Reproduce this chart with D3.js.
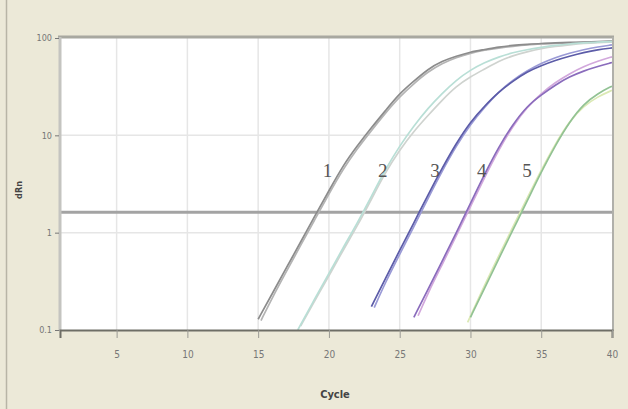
<!DOCTYPE html>
<html><head><meta charset="utf-8">
<script src="https://cdn.jsdelivr.net/npm/d3@7"></script>
<style>body{margin:0;background:#ECE9D8;}svg{display:block;}</style>
</head><body>
<svg id="c" width="628" height="409"></svg>
<script>
const xTicks = [5,10,15,20,25,30,35,40];
const yTicks = [0.1,1,10,100];
const yTickLabels = ["0.1","1","10","100"];
const threshold = 1.62;
const curveLabels = ["1","2","3","4","5"];
const labelCycles = [19.9,23.8,27.5,30.8,34.0];

const c1a = [[15,0.129],[16,0.237],[17,0.437],[18,0.80],[19,1.48],[20,2.7],[21,4.9],[22,7.8],[23,12],[24,18],[25,27],[26,36],[27,48],[28,58],[29,65],[30,72],[31,76],[32,81],[33,84],[34,86],[35,88],[36,89],[37,90],[38,91],[39,92],[40,93]];
const c1b = [[15.2,0.125],[16,0.215],[17,0.40],[18,0.74],[19,1.36],[20,2.5],[21,4.5],[22,7.3],[23,11.2],[24,17],[25,25],[26,34],[27,45],[28,55],[29,63],[30,70],[31,75],[32,79],[33,82],[34,85],[35,87],[36,88],[37,89],[38,90],[39,91],[40,92]];
const c2a = [[18,0.11],[19,0.20],[20,0.36],[21,0.66],[22,1.17],[23,2.2],[24,4.2],[25,7.1],[26,11],[27,16],[28,23],[29,32],[30,40],[31,48],[32,58],[33,66],[34,72],[35,78],[36,82],[37,85],[38,88],[39,90],[40,91]];
const c2b = [[17.8,0.10],[19,0.21],[20,0.38],[21,0.70],[22,1.25],[23,2.35],[24,4.5],[25,7.8],[26,12.5],[27,19],[28,27],[29,37],[30,47],[31,56],[32,64],[33,71],[34,76],[35,80],[36,84],[37,87],[38,89],[39,91],[40,92]];
const c3a = [[23,0.174],[24,0.34],[25,0.66],[26,1.26],[27,2.45],[28,4.6],[29,8.3],[30,13.8],[31,20],[32,28],[33,36],[34,45],[35,52],[36,59],[37,65],[38,71],[39,76],[40,79]];
const c3b = [[23.2,0.17],[24,0.31],[25,0.60],[26,1.15],[27,2.25],[28,4.3],[29,7.8],[30,13],[31,19.5],[32,28],[33,37],[34,46],[35,55],[36,63],[37,70],[38,76],[39,81],[40,85]];
const c4a = [[26,0.135],[27,0.26],[28,0.51],[29,1.0],[30,2.0],[31,4.0],[32,7.6],[33,13],[34,20],[35,26],[36,33],[37,40],[38,46],[39,51],[40,56]];
const c4b = [[26.3,0.14],[27,0.24],[28,0.47],[29,0.93],[30,1.85],[31,3.7],[32,7.1],[33,12.5],[34,19.5],[35,27],[36,35],[37,43],[38,51],[39,58],[40,64]];
const c5a = [[30,0.135],[31,0.27],[32,0.54],[33,1.07],[34,2.1],[35,4.2],[36,7.9],[37,13.8],[38,21],[39,27],[40,32]];
const c5b = [[29.8,0.12],[31,0.29],[32,0.58],[33,1.15],[34,2.25],[35,4.4],[36,8.2],[37,14],[38,20],[39,25],[40,29]];

const series = [
  {data:c1b,color:"#b4b4b4"},{data:c1a,color:"#8c8c8c"},
  {data:c2a,color:"#cfd3cf"},{data:c2b,color:"#b9dfd6"},
  {data:c3b,color:"#9a9ad6"},{data:c3a,color:"#5c5ca8"},
  {data:c4b,color:"#d2a8dc"},{data:c4a,color:"#8a6cbc"},
  {data:c5b,color:"#dbe9b4"},{data:c5a,color:"#92c294"}
];

const svg = d3.select("#c");
svg.append("rect").attr("x",0).attr("y",0).attr("width",628).attr("height",409).attr("fill","#ECE9D8");
svg.append("line").attr("x1",6.5).attr("x2",6.5).attr("y1",0).attr("y2",409).attr("stroke","#b8b5a6").attr("stroke-width",1.5);

const x = d3.scaleLinear().domain([1,40]).range([60,612]);
const y = d3.scaleLog().domain([0.1,100]).range([330,38]);

svg.append("rect").attr("x",60).attr("y",38).attr("width",552).attr("height",292).attr("fill","#ffffff");

const g = svg.append("g");
g.selectAll("line.vg").data(xTicks.slice(0,-1)).enter().append("line")
  .attr("x1",d=>x(d)).attr("x2",d=>x(d)).attr("y1",38).attr("y2",330)
  .attr("stroke","#e6e6e6").attr("stroke-width",1.5);
g.selectAll("line.hg").data([1,10]).enter().append("line")
  .attr("x1",60).attr("x2",612).attr("y1",d=>y(d)).attr("y2",d=>y(d))
  .attr("stroke","#e6e6e6").attr("stroke-width",1.5);

g.append("line").attr("x1",60).attr("x2",612).attr("y1",y(threshold)).attr("y2",y(threshold))
  .attr("stroke","#a3a3a3").attr("stroke-width",3);

const line = d3.line().x(d=>x(d[0])).y(d=>y(d[1])).curve(d3.curveBasis);
g.selectAll("path.s").data(series).enter().append("path")
  .attr("d",d=>line(d.data)).attr("fill","none").attr("stroke",d=>d.color).attr("stroke-width",1.7);

svg.append("line").attr("x1",58).attr("x2",614).attr("y1",37).attr("y2",37).attr("stroke","#a8a8a0").attr("stroke-width",3);
svg.append("line").attr("x1",60).attr("x2",60).attr("y1",37).attr("y2",331).attr("stroke","#c4c4c0").attr("stroke-width",3);
svg.append("line").attr("x1",613).attr("x2",613).attr("y1",37).attr("y2",331).attr("stroke","#b0b0aa").attr("stroke-width",2);

const xAxis = d3.axisBottom(x).tickValues(xTicks).tickSize(8).tickPadding(13).tickFormat(d3.format("d"));
const xa = svg.append("g").attr("transform","translate(0,330)").call(xAxis);
xa.select(".domain").attr("stroke","#6e6e66").attr("stroke-width",2);
xa.selectAll(".tick line").attr("stroke","#9a9a94");
xa.selectAll("text").attr("fill","#777").attr("font-family","Liberation Sans Narrow, DejaVu Sans Condensed, sans-serif").attr("font-size",10);

const yAxis = d3.axisLeft(y).tickValues(yTicks).tickSize(4).tickPadding(3).tickFormat((d,i)=>yTickLabels[i]);
const ya = svg.append("g").attr("transform","translate(59,0)").call(yAxis);
ya.select(".domain").remove();
ya.selectAll(".tick line").attr("stroke","#777");
ya.selectAll("text").attr("fill","#777").attr("font-family","Liberation Sans Narrow, DejaVu Sans Condensed, sans-serif").attr("font-size",9);

svg.append("text").attr("x",335).attr("y",398).attr("text-anchor","middle")
  .attr("font-family","Liberation Sans Narrow, DejaVu Sans Condensed, sans-serif").attr("font-size",11).attr("font-weight","bold").attr("fill","#444").text("Cycle");
svg.append("text").attr("transform","translate(22,190) rotate(-90)").attr("text-anchor","middle")
  .attr("font-family","Liberation Sans Narrow, DejaVu Sans Condensed, sans-serif").attr("font-size",9).attr("font-weight","bold").attr("fill","#444").text("dRn");

svg.selectAll("text.lbl").data(curveLabels).enter().append("text")
  .attr("x",(d,i)=>x(labelCycles[i])).attr("y",177).attr("text-anchor","middle")
  .attr("font-family","Liberation Serif, serif").attr("font-size",19).attr("fill","#555").text(d=>d);
</script>
</body></html>
